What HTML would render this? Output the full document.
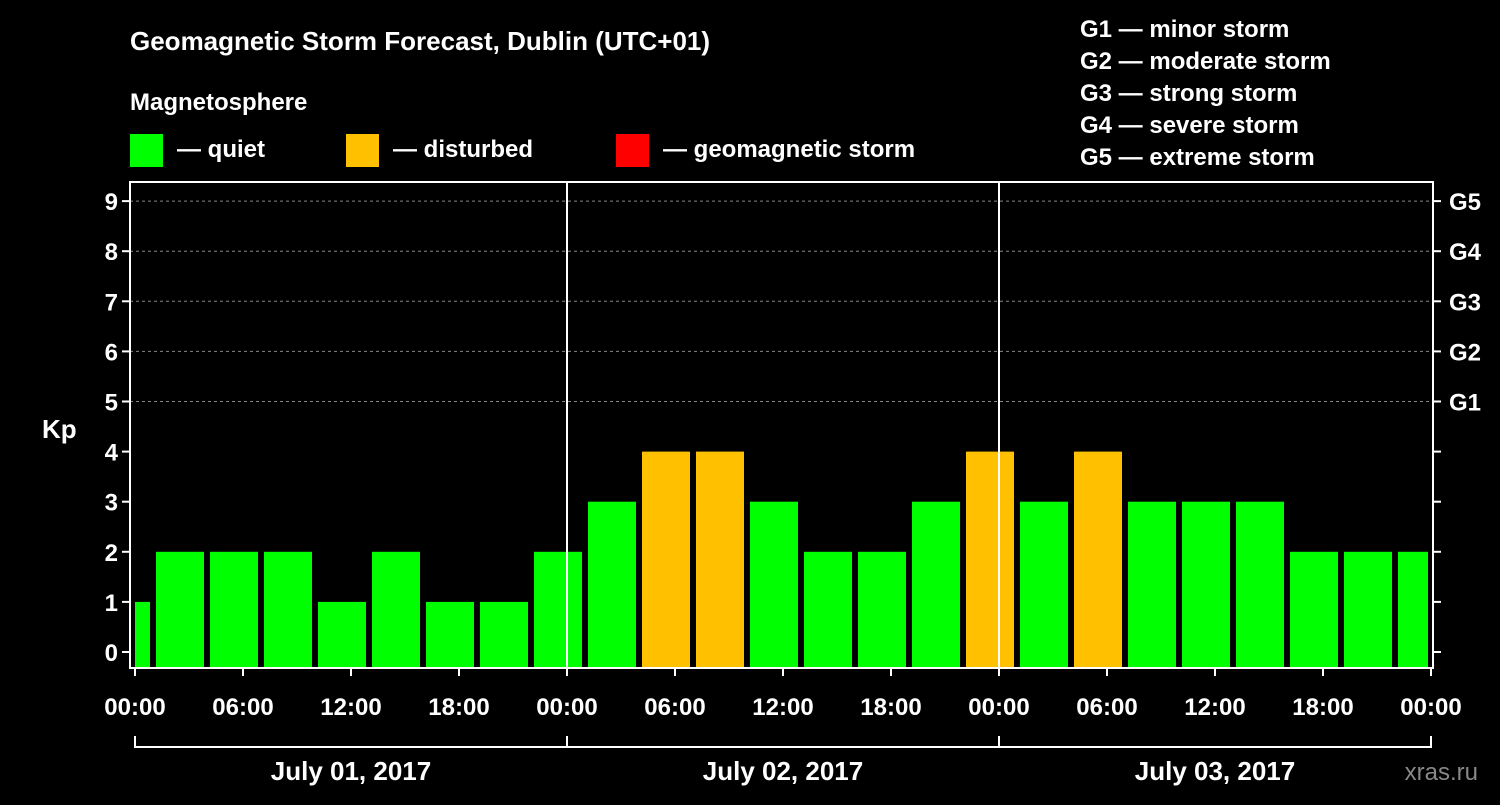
<!DOCTYPE html>
<html><head><meta charset="utf-8"><style>
body{margin:0;background:#000;width:1500px;height:800px;overflow:hidden}
svg text{font-family:"Liberation Sans",Arial,sans-serif;font-weight:bold;fill:#fff}
</style></head><body>
<svg id="c" width="1500" height="800" xmlns="http://www.w3.org/2000/svg">
<text x="130" y="50" font-size="26">Geomagnetic Storm Forecast, Dublin (UTC+01)</text>
<text x="130" y="110" font-size="24">Magnetosphere</text>
<rect x="130" y="134" width="33" height="33" fill="#00ff00"/>
<text x="177" y="157" font-size="24">— quiet</text>
<rect x="346" y="134" width="33" height="33" fill="#ffc000"/>
<text x="393" y="157" font-size="24">— disturbed</text>
<rect x="616" y="134" width="33" height="33" fill="#ff0000"/>
<text x="663" y="157" font-size="24">— geomagnetic storm</text>
<g font-size="24">
<text x="1080" y="37">G1 — minor storm</text>
<text x="1080" y="69">G2 — moderate storm</text>
<text x="1080" y="101">G3 — strong storm</text>
<text x="1080" y="133">G4 — severe storm</text>
<text x="1080" y="165">G5 — extreme storm</text>
</g>
<text x="42" y="438" font-size="26">Kp</text>
<text x="1478" y="780" font-size="24" fill="#888" style="fill:#888;font-weight:normal" text-anchor="end">xras.ru</text>
<g id="plot"></g>
</svg>
<script>
const values=[1,2,2,2,1,2,1,1,2,3,4,4,3,2,2,3,4,3,4,3,3,3,2,2,2];
const yTicks=[0,1,2,3,4,5,6,7,8,9];
const gLabels=["G1","G2","G3","G4","G5"];
const xTickLabels=["00:00","06:00","12:00","18:00","00:00","06:00","12:00","18:00","00:00","06:00","12:00","18:00","00:00"];
const dates=["July 01, 2017","July 02, 2017","July 03, 2017"];
const L=130,R=1433,T=182,B=668,X0=135,HX=18;
const y=v=>652-50.1*v;
const x=h=>X0+h*HX;
const g=document.getElementById('plot');
const NS="http://www.w3.org/2000/svg";
function mk(t,a,txt){const e=document.createElementNS(NS,t);for(const k in a)e.setAttribute(k,a[k]);if(txt!=null)e.textContent=txt;g.appendChild(e);return e;}
// grid
for(let i=5;i<=9;i++){const e=mk('line',{x1:L,x2:R,y1:y(i),y2:y(i),stroke:'#888','stroke-dasharray':'3,3','stroke-width':1});

}
// bars
values.forEach((v,i)=>{const c=i*3-0.5;let a=x(c)-24,b=x(c)+24;a=Math.max(a,X0);b=Math.min(b,1428);
const e=mk('rect',{x:a,y:y(v),width:b-a,height:B-y(v),fill:v>=5?'#ff0000':v>=4?'#ffc000':'#00ff00'});

});
// day separators
[1,2].forEach(d=>{const e=mk('line',{x1:x(d*24),x2:x(d*24),y1:T,y2:B,stroke:'#fff','stroke-width':2});

});
// frame
const f=mk('rect',{x:L,y:T,width:R-L,height:B-T,fill:'none',stroke:'#fff','stroke-width':2});


// y ticks
yTicks.forEach(v=>{mk('line',{x1:L-8,x2:L,y1:y(v),y2:y(v),stroke:'#fff','stroke-width':2});
mk('line',{x1:R,x2:R+8,y1:y(v),y2:y(v),stroke:'#fff','stroke-width':2});
const t=mk('text',{x:L-12,y:y(v)+9,'font-size':24,'text-anchor':'end'},v);

});
gLabels.forEach((s,i)=>{const t=mk('text',{x:1449,y:y(i+5)+9,'font-size':24},s);

});
// x ticks
xTickLabels.forEach((s,i)=>{const xx=x(i*6);mk('line',{x1:xx,x2:xx,y1:B,y2:B+8,stroke:'#fff','stroke-width':2});
const t=mk('text',{x:xx,y:715,'font-size':24,'text-anchor':'middle'},s);

});
// date brackets
mk('line',{x1:x(0),x2:x(72),y1:747,y2:747,stroke:'#fff','stroke-width':2});
for(let d=0;d<=3;d++)mk('line',{x1:x(d*24),x2:x(d*24),y1:736,y2:748,stroke:'#fff','stroke-width':2});
dates.forEach((s,i)=>{const t=mk('text',{x:x(i*24+12),y:780,'font-size':26,'text-anchor':'middle'},s);

});
</script>
</body></html>
